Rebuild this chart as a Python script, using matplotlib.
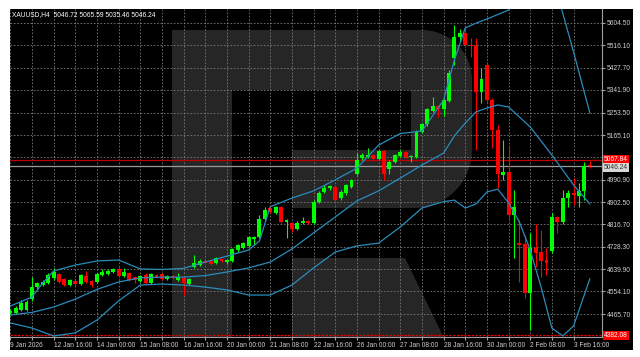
import numpy as np
import matplotlib.pyplot as plt
from matplotlib.patches import Rectangle, Polygon
from matplotlib.transforms import blended_transform_factory

plt.rcParams['font.family'] = ['Liberation Sans', 'DejaVu Sans']
FS = 4.8

# XAUUSD H4 bars, 9 Jan 2026 08:00 .. 4 Feb 2026 04:00 (bar index 0..107)
opens = [4468, 4471, 4483, 4483, 4523, 4570, 4579, 4586, 4608, 4622,
         4601, 4579, 4595, 4583, 4614, 4595, 4592, 4618, 4622, 4630,
         4640, 4614, 4625, 4612, 4596, 4618, 4588, 4618, 4622, 4601,
         4614, 4599, 4605, 4583, 4649, 4657, 4674, 4672, 4664, 4680,
         4670, 4672, 4716, 4722, 4731, 4760, 4766, 4836, 4879, 4862,
         4883, 4827, 4823, 4797, 4820, 4830, 4822, 4905, 4944, 4957,
         4963, 4918, 4937, 4963, 5013, 5074, 5078, 5087, 5071, 5104,
         5031, 5061, 5083, 5100, 5078, 5080, 5178, 5208, 5260, 5279,
         5266, 5300, 5465, 5547, 5563, 5517, 5513, 5335, 5439, 5302,
         5185, 5011, 5022, 4853, 4745, 4739, 4549, 4722, 4709, 4676,
         4713, 4846, 4826, 4918, 4937, 4927, 4946, 5046.72]
highs = [4485, 4498, 4520, 4520, 4612, 4592, 4598, 4626, 4645, 4628,
         4606, 4603, 4600, 4624, 4635, 4600, 4626, 4640, 4640, 4646,
         4648, 4645, 4630, 4615, 4618, 4625, 4627, 4622, 4626, 4618,
         4618, 4625, 4612, 4605, 4696, 4680, 4678, 4676, 4688, 4684,
         4682, 4725, 4740, 4746, 4770, 4772, 4852, 4883, 4891, 4888,
         4888, 4838, 4827, 4828, 4845, 4834, 4910, 4945, 4970, 4972,
         4968, 4950, 4975, 4995, 5094, 5094, 5113, 5092, 5108, 5108,
         5066, 5092, 5105, 5104, 5088, 5184, 5213, 5270, 5313, 5284,
         5306, 5418, 5595, 5580, 5595, 5543, 5543, 5426, 5452, 5310,
         5204, 5146, 5120, 4950, 4833, 4775, 4781, 4818, 4794, 4723,
         4862, 4850, 4950, 4950, 4996, 4977, 5061, 5065.59]
lows = [4462, 4466, 4478, 4477, 4518, 4565, 4574, 4582, 4600, 4588,
        4575, 4575, 4575, 4580, 4588, 4572, 4588, 4614, 4618, 4626,
        4610, 4610, 4595, 4586, 4592, 4584, 4584, 4607, 4597, 4597,
        4601, 4595, 4540, 4580, 4645, 4653, 4662, 4658, 4660, 4668,
        4662, 4668, 4710, 4718, 4727, 4735, 4762, 4830, 4860, 4858,
        4822, 4762, 4785, 4793, 4816, 4818, 4818, 4900, 4940, 4952,
        4898, 4912, 4932, 4958, 5008, 5068, 5074, 5066, 5066, 4990,
        5015, 5055, 5078, 5074, 5060, 5076, 5172, 5202, 5255, 5237,
        5240, 5296, 5440, 5530, 5510, 5472, 5107, 5289, 5290, 5113,
        4958, 4990, 4833, 4685, 4592, 4530, 4403, 4651, 4612, 4618,
        4705, 4781, 4818, 4885, 4892, 4885, 4911, 5035.46]
closes = [4479, 4488, 4508, 4513, 4572, 4586, 4592, 4618, 4630, 4592,
          4579, 4599, 4582, 4618, 4592, 4580, 4622, 4630, 4634, 4641,
          4614, 4630, 4599, 4599, 4614, 4588, 4622, 4611, 4601, 4614,
          4605, 4611, 4586, 4601, 4664, 4674, 4666, 4662, 4683, 4672,
          4676, 4719, 4735, 4742, 4765, 4768, 4836, 4872, 4866, 4883,
          4827, 4833, 4797, 4823, 4830, 4822, 4905, 4938, 4957, 4966,
          4911, 4944, 4970, 4989, 5068, 5087, 5087, 5071, 5104, 5013,
          5061, 5087, 5100, 5078, 5083, 5178, 5208, 5266, 5279, 5266,
          5302, 5409, 5547, 5563, 5517, 5513, 5335, 5383, 5302, 5185,
          5013, 5022, 4853, 4885, 4735, 4549, 4722, 4705, 4674, 4666,
          4846, 4827, 4918, 4937, 4932, 4946, 5046, 5046.24]

# Bollinger bands at some bars
upper_bars = [0, 4, 6, 8, 12, 16, 20, 24, 28, 32, 36, 40, 44, 46, 48, 52, 56,
              60, 64, 68, 72, 76, 80, 82, 84, 86, 88, 92, 96, 100, 102, 104, 107]
upper = [4497, 4532, 4587, 4634, 4657, 4673, 4677, 4642, 4640, 4644, 4669,
         4692, 4716, 4751, 4885, 4919, 4947, 4990, 5036, 5126, 5171, 5181,
         5302, 5459, 5584, 5603, 5619, 5654, 5791, 5791, 5642, 5490, 5252]
middle_bars = [0, 4, 8, 12, 16, 20, 24, 28, 32, 36, 40, 44, 48, 52, 56, 60,
               64, 68, 72, 76, 80, 82, 84, 86, 88, 90, 92, 96, 100, 104, 107]
middle = [4462, 4472, 4493, 4524, 4562, 4591, 4607, 4610, 4610, 4616, 4630,
          4646, 4669, 4720, 4783, 4845, 4908, 4947, 4997, 5048, 5095, 5162,
          5212, 5256, 5271, 5283, 5275, 5197, 5087, 4970, 4896]
lower_bars = [0, 4, 8, 12, 16, 20, 24, 28, 32, 36, 40, 44, 48, 52, 56, 60, 64,
              68, 72, 76, 80, 82, 84, 86, 88, 90, 92, 94, 96, 98, 100, 102,
              104, 107]
lower = [4431, 4411, 4380, 4392, 4442, 4517, 4579, 4583, 4579, 4571, 4560,
         4540, 4540, 4579, 4646, 4708, 4732, 4743, 4806, 4880, 4905, 4911,
         4880, 4896, 4943, 4954, 4900, 4825, 4716, 4571, 4411, 4380, 4419,
         4603]

price_ticks = [5604.50, 5516.10, 5427.70, 5341.90, 5253.50, 5165.10, 5078.30,
               4990.90, 4902.50, 4816.70, 4728.30, 4639.90, 4554.10, 4465.70]
date_bars = [0, 8, 16, 24, 32, 40, 48, 56, 64, 72, 80, 88, 96, 104]
date_labels = ['9 Jan 2026', '12 Jan 16:00', '14 Jan 00:00', '15 Jan 08:00',
               '16 Jan 16:00', '20 Jan 00:00', '21 Jan 08:00', '22 Jan 16:00',
               '26 Jan 00:00', '27 Jan 08:00', '28 Jan 16:00', '30 Jan 00:00',
               '2 Feb 08:00', '3 Feb 16:00']

level_high = 5067.84
level_low = 4382.08
bid = 5046.24

W, H = 640, 357
fig = plt.figure(figsize=(W / 100, H / 100), dpi=100, facecolor='white')
bg = fig.add_axes([10 / W, 7 / H, 623 / W, 341 / H], zorder=-5)
bg.set_axis_off()
bg.add_patch(Rectangle((0, 0), 1, 1, transform=bg.transAxes, color='black'))
ax = fig.add_axes([10 / W, 20 / H, 592 / W, 328 / H])
ax.set_facecolor('black')


def px(x, y):
    return (x / W, 1 - y / H)


# watermark logo
wm = '#262626'
stem = [px(172, 30), px(232, 30), px(232, 340), px(172, 340)]
t1 = np.linspace(np.pi / 2, 0, 20)
t2 = np.linspace(0, -np.pi / 2, 20)
bowl = [px(232, 30)]
bowl += [px(422 + 50 * np.cos(t), 80 - 50 * np.sin(t)) for t in t1]
bowl += [px(414 + 58 * np.cos(t), 150 - 58 * np.sin(t)) for t in t2]
bowl += [px(292, 208), px(292, 150), px(411, 150), px(411, 90), px(232, 90)]
leg = [px(292, 258), px(405, 258), px(445, 340), px(292, 340)]
for shape in (stem, bowl, leg):
    ax.add_patch(Polygon(shape, closed=True, transform=fig.transFigure,
                         facecolor=wm, edgecolor='none', zorder=0.2))

x = np.arange(len(opens))
o = np.array(opens)
c = np.array(closes)
up = c >= o
col = np.where(up, '#00ff00', '#ff0000')
ax.vlines(x, lows, highs, colors=col, lw=0.8, zorder=3)
ax.bar(x, np.maximum(np.abs(c - o), 2.5), bottom=np.minimum(o, c), width=0.72,
       color=col, linewidth=0, zorder=4)

band = '#2a8cbc'
ax.plot(upper_bars, upper, color=band, lw=0.9, zorder=5)
ax.plot(middle_bars, middle, color=band, lw=0.9, zorder=5)
ax.plot(lower_bars, lower, color=band, lw=0.9, zorder=5)

ax.axhline(level_high, color='#c00000', lw=0.9, zorder=2)
ax.axhline(bid, color='#9a9a9a', lw=0.9, zorder=2)
ax.axhline(level_low, color='#e00000', lw=0.9, ls=(0, (2, 1)), zorder=2)

ax.set_xlim(-0.05, 109.25)
ax.set_ylim(4375.9, 5658.1)

ax.set_axisbelow(True)
ax.set_xticks(range(0, 108, 4))
ax.set_xticklabels([date_labels[date_bars.index(k)] if k in date_bars else ''
                    for k in range(0, 108, 4)])
for lab in ax.get_xticklabels():
    lab.set_horizontalalignment('left')
ax.yaxis.tick_right()
ax.set_yticks(price_ticks)
ax.set_yticklabels(['' if abs(p - 5078.30) < 0.01 else f'{p:.2f}' for p in price_ticks])
ax.grid(True, color='#7a7a7a', lw=0.6, ls=(0, (2, 2)))
ax.tick_params(axis='both', colors='#a0a0a0', labelcolor='#d0d0d0',
               labelsize=FS, length=2, pad=1.5)

for s in ('top', 'left'):
    ax.spines[s].set_visible(False)
for s in ('right', 'bottom'):
    ax.spines[s].set_color('#a0a0a0')
    ax.spines[s].set_linewidth(0.8)

tr = blended_transform_factory(ax.transAxes, ax.transData)
ax.text(1.003, level_high, f'{level_high:.2f}', transform=tr, fontsize=FS,
        color='white', va='center', clip_on=False, zorder=6,
        bbox=dict(facecolor='#ff0000', edgecolor='none', pad=0.9))
ax.text(1.003, bid - 8, f'{bid:.2f}', transform=tr, fontsize=FS,
        color='#303030', va='center', clip_on=False, zorder=6,
        bbox=dict(facecolor='#d8d8d8', edgecolor='none', pad=0.9))
ax.text(1.003, level_low, f'{level_low:.2f}', transform=tr, fontsize=FS,
        color='white', va='center', clip_on=False, zorder=6,
        bbox=dict(facecolor='#ff0000', edgecolor='none', pad=0.9))

fig.text(12 / W, 1 - 15 / H, 'XAUUSD,H4  5046.72 5065.59 5035.46 5046.24',
         color='white', fontsize=FS, va='center')

fig.savefig('out.png', dpi=100, facecolor='white')
